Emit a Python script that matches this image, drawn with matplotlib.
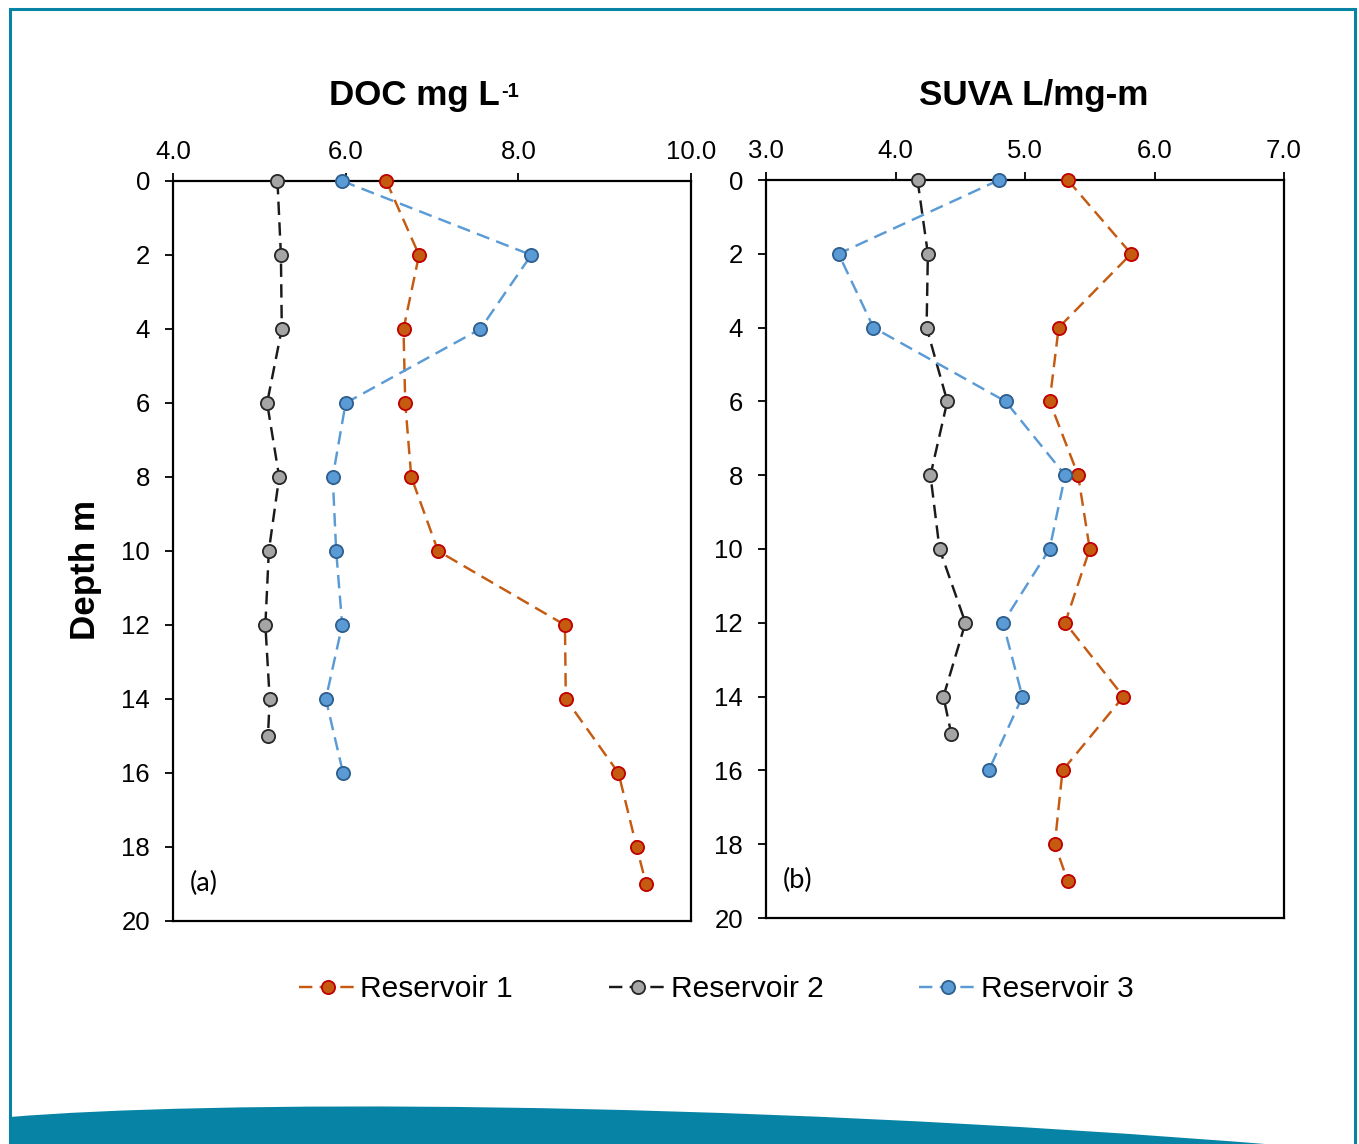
import matplotlib
matplotlib.use("Agg")
import matplotlib.pyplot as plt
from matplotlib.patches import PathPatch, Rectangle
from matplotlib.path import Path

plt.rcParams['font.family'] = ['Liberation Sans', 'DejaVu Sans']

# ---------------- data ----------------
depth_r1 = [0, 2, 4, 6, 8, 10, 12, 14, 16, 18, 19]
depth_r2 = [0, 2, 4, 6, 8, 10, 12, 14, 15]
depth_r3 = [0, 2, 4, 6, 8, 10, 12, 14, 16]

doc_r1 = [6.47, 6.85, 6.67, 6.69, 6.76, 7.07, 8.54, 8.55, 9.16, 9.37, 9.48]
doc_r2 = [5.21, 5.25, 5.26, 5.09, 5.23, 5.11, 5.07, 5.12, 5.10]
doc_r3 = [5.96, 8.15, 7.56, 6.00, 5.85, 5.89, 5.96, 5.77, 5.97]

suva_r1 = [5.33, 5.82, 5.26, 5.19, 5.41, 5.50, 5.31, 5.76, 5.29, 5.23, 5.33]
suva_r2 = [4.17, 4.25, 4.24, 4.40, 4.27, 4.34, 4.54, 4.37, 4.43]
suva_r3 = [4.80, 3.56, 3.83, 4.85, 5.31, 5.19, 4.83, 4.98, 4.72]

series_names = ["Reservoir 1", "Reservoir 2", "Reservoir 3"]
doc_ticks = [4.0, 6.0, 8.0, 10.0]
suva_ticks = [3.0, 4.0, 5.0, 6.0, 7.0]
depth_ticks = list(range(0, 21, 2))

# ---------------- styles ----------------
styles = [
    dict(color="#C55A11", mfc="#C55A11", mec="#C00000"),
    dict(color="#1A1A1A", mfc="#A5A5A5", mec="#262626"),
    dict(color="#5B9BD5", mfc="#5B9BD5", mec="#2E5E8E"),
]
teal = "#0784A5"

W, H = 1359, 1144
fig = plt.figure(figsize=(W / 100, H / 100), dpi=100)
fig.patch.set_facecolor("white")

def fx(px):
    return px / W

def fy(py):
    return 1 - py / H

# frame
fig.patches.append(Rectangle((fx(10), fy(1150)), fx(1355) - fx(10), fy(9) - fy(1150),
                             transform=fig.transFigure, fill=False,
                             edgecolor=teal, lw=2.2, zorder=0))
# bottom wave
verts = [(fx(10), fy(1117)), (fx(200), fy(1101)), (fx(700), fy(1098)), (fx(1290), fy(1146)),
         (fx(10), fy(1146)), (fx(10), fy(1117))]
codes = [Path.MOVETO, Path.CURVE4, Path.CURVE4, Path.CURVE4, Path.LINETO, Path.CLOSEPOLY]
fig.patches.append(PathPatch(Path(verts, codes), transform=fig.transFigure,
                             facecolor=teal, edgecolor="none", zorder=0))

ax1 = fig.add_axes([fx(173), fy(921), fx(691) - fx(173), fy(181) - fy(921)])
ax2 = fig.add_axes([fx(766), fy(918), fx(1284) - fx(766), fy(180) - fy(918)])

panels = [
    (ax1, [doc_r1, doc_r2, doc_r3], doc_ticks, (4, 10), "DOC mg L", "-1", "(a)", 0.466),
    (ax2, [suva_r1, suva_r2, suva_r3], suva_ticks, (3, 7), "SUVA L/mg-m", "", "(b)", 0.516),
]
depths = [depth_r1, depth_r2, depth_r3]

handles = []
for ax, vals, xt, xl, title, sup, lab, tx in panels:
    for i, (v, d) in enumerate(zip(vals, depths)):
        st = styles[i]
        h, = ax.plot(v, d, linestyle=(0, (5.5, 3)), lw=1.75, color=st["color"],
                     marker="o", ms=9.5, mfc=st["mfc"], mec=st["mec"], mew=1.3,
                     label=series_names[i], clip_on=False, zorder=3 + i)
        if ax is ax1:
            handles.append(h)
    ax.set_xlim(*xl)
    ax.set_ylim(20, 0)
    ax.set_xticks(xt)
    ax.set_xticklabels([f"{t:.1f}" for t in xt])
    ax.set_yticks(depth_ticks)
    ax.xaxis.tick_top()
    ax.tick_params(axis="both", direction="out", length=6, width=1.3,
                   labelsize=18.5, colors="#000000")
    ax.tick_params(axis="x", pad=6.5)
    ax.tick_params(axis="y", pad=10.5)
    for s in ax.spines.values():
        s.set_linewidth(1.6)
        s.set_color("#000000")
    t = ax.text(tx, 1.115, title, transform=ax.transAxes, ha="center",
                va="center", fontsize=25.2, fontweight="bold")
    if sup:
        ax.annotate(sup, xy=(1.0, 1.0), xycoords=t, xytext=(1, -2),
                    textcoords="offset points", ha="left", va="top",
                    fontsize=14.5, fontweight="bold")
    ax.text(0.033, 0.051, lab, transform=ax.transAxes, ha="left", va="center",
            fontsize=19.5, family=["Lato", "DejaVu Sans"])

fig.text(fx(85), fy(570), "Depth m", rotation=90, ha="center", va="center",
         fontsize=25.2, fontweight="bold")

fig.legend(handles=handles, labels=series_names, loc="center",
           bbox_to_anchor=(fx(716), fy(989)), ncol=3, frameon=False,
           fontsize=21.5, handlelength=1.95, handletextpad=0.12,
           columnspacing=3.2)

fig.savefig("out.png", dpi=100)
